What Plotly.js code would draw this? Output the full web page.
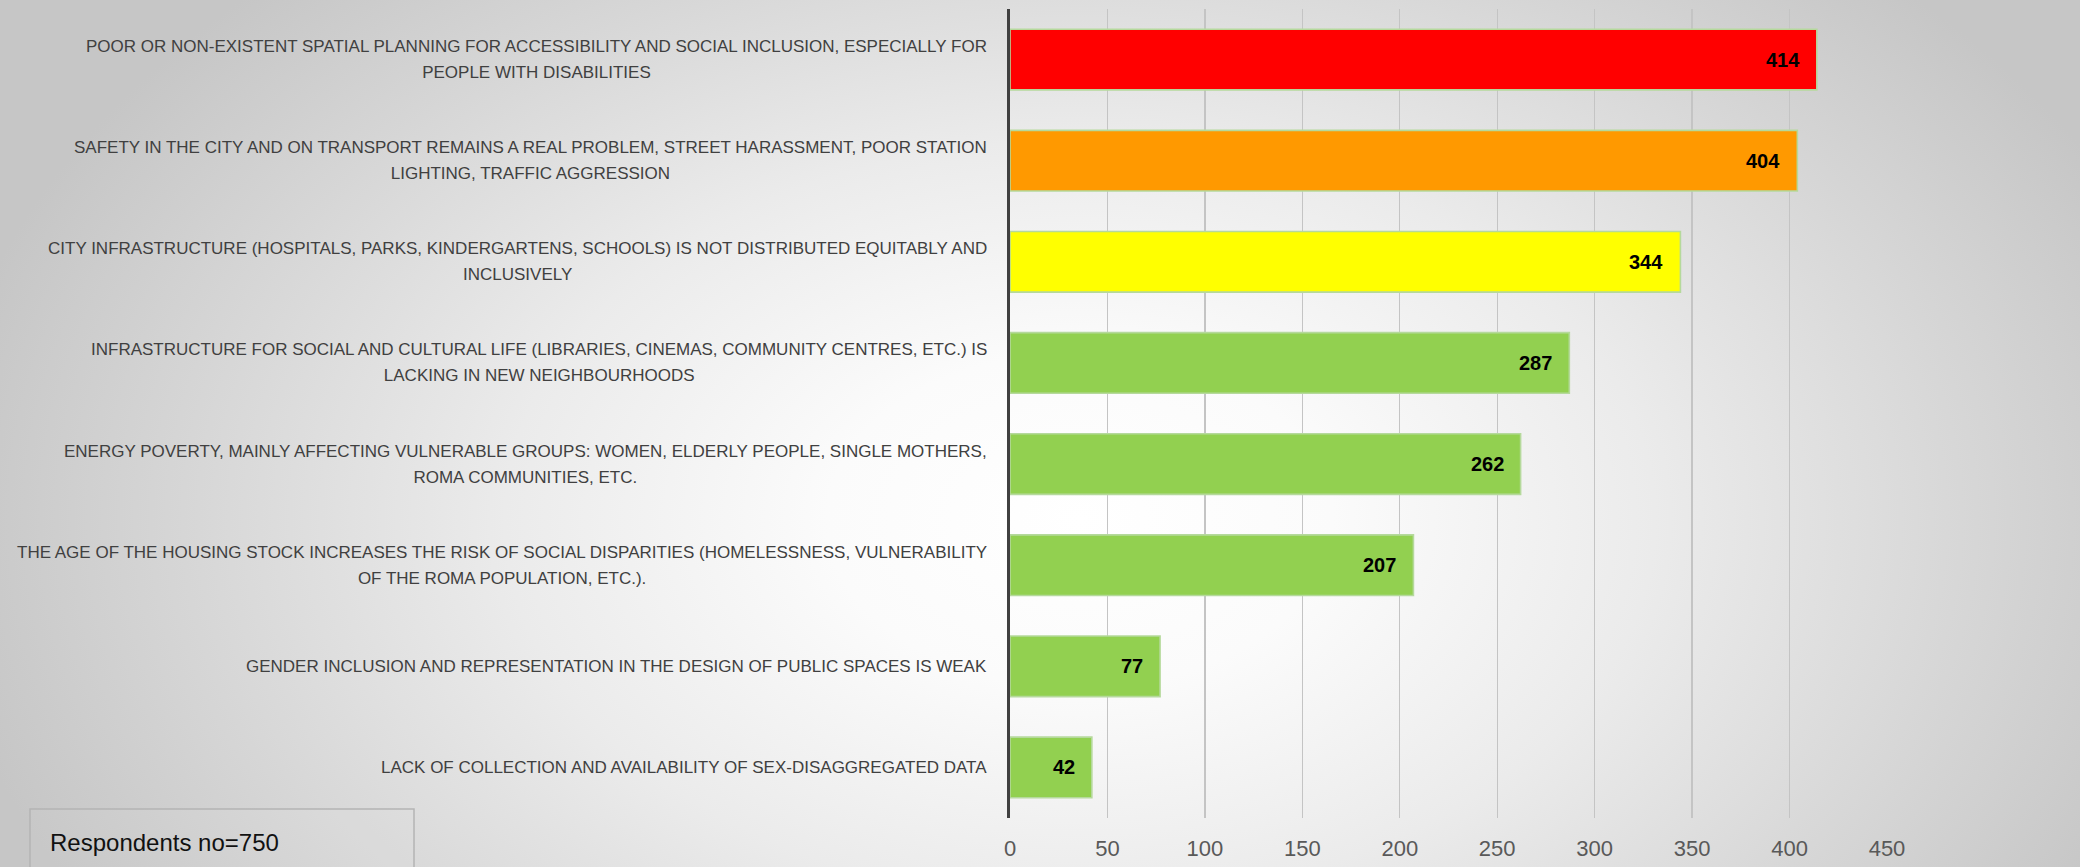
<!DOCTYPE html>
<html>
<head>
<meta charset="utf-8">
<script src="https://cdn.plot.ly/plotly-3.0.1.min.js"></script>
<style>
  html, body { margin: 0; padding: 0; }
  #wrap {
    width: 2080px; height: 867px; position: relative; overflow: hidden;
    background: radial-gradient(ellipse 1150px 760px at 1080px 520px, #ffffff 0%, #fbfbfb 22%, #ebebeb 50%, #d6d6d6 78%, #c6c6c6 100%);
  }
  #chart { width: 2080px; height: 867px; }
</style>
</head>
<body>
<div id="wrap"><div id="chart"></div></div>
<script>
// ---- data ----
const categories = [
  "POOR OR NON-EXISTENT SPATIAL PLANNING FOR ACCESSIBILITY AND SOCIAL INCLUSION, ESPECIALLY FOR<br>PEOPLE WITH DISABILITIES",
  "SAFETY IN THE CITY AND ON TRANSPORT REMAINS A REAL PROBLEM, STREET HARASSMENT, POOR STATION<br>LIGHTING, TRAFFIC AGGRESSION",
  "CITY INFRASTRUCTURE (HOSPITALS, PARKS, KINDERGARTENS, SCHOOLS) IS NOT DISTRIBUTED EQUITABLY AND<br>INCLUSIVELY",
  "INFRASTRUCTURE FOR SOCIAL AND CULTURAL LIFE (LIBRARIES, CINEMAS, COMMUNITY CENTRES, ETC.) IS<br>LACKING IN NEW NEIGHBOURHOODS",
  "ENERGY POVERTY, MAINLY AFFECTING VULNERABLE GROUPS: WOMEN, ELDERLY PEOPLE, SINGLE MOTHERS,<br>ROMA COMMUNITIES, ETC.",
  "THE AGE OF THE HOUSING STOCK INCREASES THE RISK OF SOCIAL DISPARITIES (HOMELESSNESS, VULNERABILITY<br>OF THE ROMA POPULATION, ETC.).",
  "GENDER INCLUSION AND REPRESENTATION IN THE DESIGN OF PUBLIC SPACES IS WEAK",
  "LACK OF COLLECTION AND AVAILABILITY OF SEX-DISAGGREGATED DATA"
];
const values = [414, 404, 344, 287, 262, 207, 77, 42];
const barColors = ["#ff0000", "#ff9900", "#ffff00", "#92d050", "#92d050", "#92d050", "#92d050", "#92d050"];
const xTickValues = [0, 50, 100, 150, 200, 250, 300, 350, 400, 450];
const noteText = "Respondents no=750";

// ---- layout geometry ----
const W = 2080, H = 867;
const M = { l: 1010, r: 193, t: 9, b: 49 };
const px2x = px => (px - M.l) / (W - M.l - M.r);
const px2y = py => (H - M.b - py) / (H - M.t - M.b);

const BASE_FONT = "Liberation Sans, Arial, sans-serif";

// each line in a smaller span so the line pitch (set by the outer font size) stays wide
const styledLabel = c => c.split("<br>")
  .map(line => '<span style="font-size:17px">' + line + '</span>')
  .join("<br>");

const trace = {
  type: "bar",
  orientation: "h",
  x: values,
  y: categories,
  marker: { color: barColors, line: { color: "#b5d99c", width: 1.6 } },
  hoverinfo: "none"
};

const annotations = [];
categories.forEach((c, i) => {
  annotations.push({
    xref: "paper", x: 0, xanchor: "right", xshift: -21,
    yref: "y", y: c, yanchor: "middle",
    text: styledLabel(c), align: "center", showarrow: false,
    font: { family: BASE_FONT, size: 20, color: "#404040" }
  });
  annotations.push({
    xref: "x", x: values[i], xanchor: "right", xshift: -15,
    yref: "y", y: c, yanchor: "middle",
    text: "<b>" + values[i] + "</b>", showarrow: false,
    font: { family: BASE_FONT, size: 20, color: "#000000" }
  });
});
annotations.push({
  xref: "paper", x: px2x(48), xanchor: "left",
  yref: "paper", y: px2y(842), yanchor: "middle",
  text: noteText, showarrow: false, align: "left",
  font: { family: BASE_FONT, size: 24, color: "#111111" }
});

const layout = {
  width: W, height: H, autosize: false,
  margin: { l: M.l, r: M.r, t: M.t, b: M.b, pad: 0 },
  paper_bgcolor: "rgba(0,0,0,0)",
  plot_bgcolor: "rgba(0,0,0,0)",
  showlegend: false,
  bargap: 0.4,
  xaxis: {
    range: [0, 450], tickvals: xTickValues, ticktext: xTickValues.map(String),
    showgrid: true, gridcolor: "#c4c4c4", gridwidth: 1.4,
    zeroline: false, showline: false,
    ticks: "outside", ticklen: 11, tickcolor: "rgba(0,0,0,0)",
    tickfont: { family: BASE_FONT, size: 22, color: "#595959" },
    fixedrange: true
  },
  yaxis: {
    type: "category", autorange: "reversed",
    showticklabels: false, ticks: "",
    showgrid: false, zeroline: false,
    showline: true, linecolor: "#404040", linewidth: 3,
    fixedrange: true
  },
  shapes: [{
    type: "rect", xref: "paper", yref: "paper",
    x0: px2x(30), x1: px2x(414), y0: px2y(880), y1: px2y(809),
    line: { color: "#b4b4b4", width: 1.5 }, fillcolor: "rgba(255,255,255,0.05)"
  }],
  annotations: annotations
};

Plotly.newPlot("chart", [trace], layout, { displayModeBar: false, staticPlot: true });
</script>
</body>
</html>
